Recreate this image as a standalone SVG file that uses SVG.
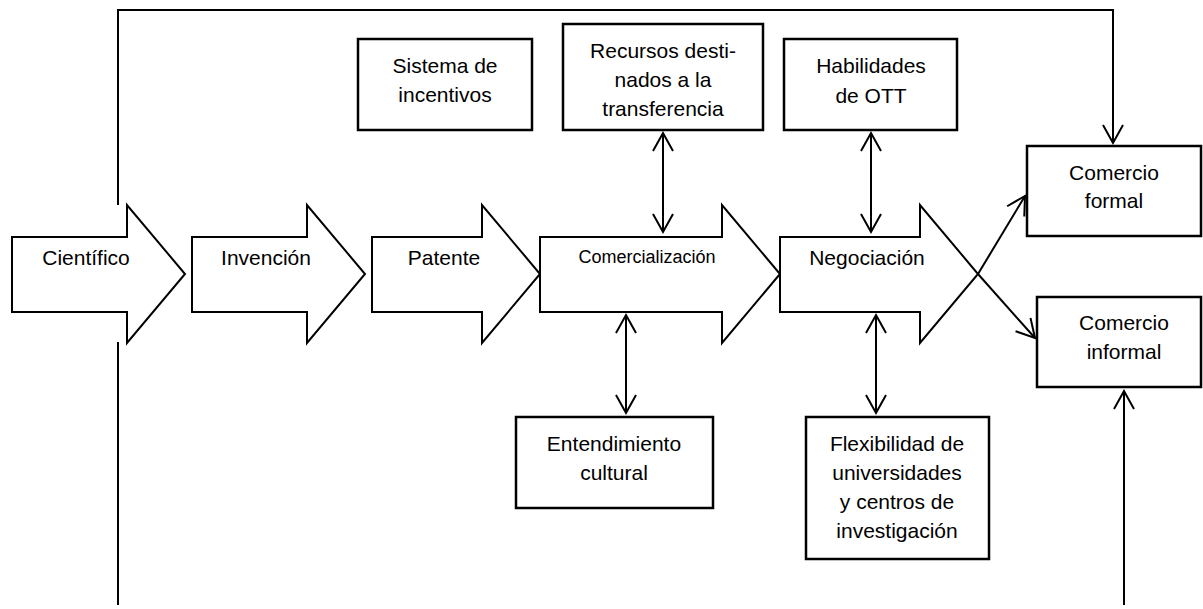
<svg xmlns="http://www.w3.org/2000/svg" width="1203" height="609" viewBox="0 0 1203 609">
<defs>
<style>
.box{fill:#fff;stroke:#000;stroke-width:2.5}
.arr{fill:#fff;stroke:#000;stroke-width:2;stroke-linejoin:miter}
.t{font-family:"Liberation Sans",Arial,sans-serif;font-size:21px;fill:#000;text-anchor:middle}
.ts{font-size:18px}
.c{fill:none;stroke:#000;stroke-width:2}
.m{fill:none;stroke:#000;stroke-width:2}
</style>
<marker id="v" markerUnits="userSpaceOnUse" markerWidth="24" markerHeight="24" refX="0" refY="0" viewBox="-20 -12 22 24" orient="auto-start-reverse" overflow="visible">
<path class="m" d="M-18,-10 L0,0 L-18,10"/>
</marker>
</defs>
<rect width="1203" height="609" fill="#fff"/>

<g id="connectors">
<polyline class="c" points="118,205 118,10 1113,10 1113,143" marker-end="url(#v)"/>
<line class="c" x1="118" y1="342" x2="118" y2="605"/>
<line class="c" x1="1124" y1="605" x2="1124" y2="391" marker-end="url(#v)"/>
<line class="c" x1="663" y1="133" x2="663" y2="232" marker-start="url(#v)" marker-end="url(#v)"/>
<line class="c" x1="871" y1="133" x2="871" y2="232" marker-start="url(#v)" marker-end="url(#v)"/>
<line class="c" x1="626" y1="315" x2="626" y2="413" marker-start="url(#v)" marker-end="url(#v)"/>
<line class="c" x1="876" y1="315" x2="876" y2="413" marker-start="url(#v)" marker-end="url(#v)"/>
</g>

<g id="n-cientifico">
<path class="arr" d="M12,237 H127 V205 L185,274 L127,343 V312 H12 Z"/>
<text class="t" x="86" y="265">Científico</text>
</g>
<g id="n-invencion">
<path class="arr" d="M192,237 H307 V205 L365,274 L307,343 V312 H192 Z"/>
<text class="t" x="266" y="265">Invención</text>
</g>
<g id="n-patente">
<path class="arr" d="M372,237 H482 V205 L540,274 L482,343 V312 H372 Z"/>
<text class="t" x="444" y="265">Patente</text>
</g>
<g id="n-comercializacion">
<path class="arr" d="M540,237 H722 V205 L780,274 L722,343 V312 H540 Z"/>
<text class="t ts" x="647" y="263">Comercialización</text>
</g>
<g id="n-negociacion">
<path class="arr" d="M780,237 H920 V205 L978,274 L920,343 V312 H780 Z"/>
<text class="t" x="867" y="265">Negociación</text>
</g>

<g id="cross-connectors">
<line class="c" x1="978" y1="274" x2="1025" y2="196" marker-end="url(#v)"/>
<line class="c" x1="978" y1="274" x2="1035" y2="338" marker-end="url(#v)"/>
</g>

<g id="n-sistema">
<rect class="box" x="358" y="39" width="174" height="91"/>
<text class="t" x="445" y="73">Sistema de</text>
<text class="t" x="445" y="102">incentivos</text>
</g>
<g id="n-recursos">
<rect class="box" x="563" y="24" width="200" height="106"/>
<text class="t" x="663" y="58">Recursos desti-</text>
<text class="t" x="663" y="87">nados a la</text>
<text class="t" x="663" y="116">transferencia</text>
</g>
<g id="n-habilidades">
<rect class="box" x="784" y="39" width="173" height="91"/>
<text class="t" x="871" y="73">Habilidades</text>
<text class="t" x="871" y="103">de OTT</text>
</g>
<g id="n-formal">
<rect class="box" x="1027" y="146" width="174" height="90"/>
<text class="t" x="1114" y="180">Comercio</text>
<text class="t" x="1114" y="208">formal</text>
</g>
<g id="n-informal">
<rect class="box" x="1037" y="297" width="164" height="90"/>
<text class="t" x="1124" y="330">Comercio</text>
<text class="t" x="1124" y="359">informal</text>
</g>
<g id="n-entendimiento">
<rect class="box" x="516" y="417" width="197" height="91"/>
<text class="t" x="614" y="451">Entendimiento</text>
<text class="t" x="614" y="480">cultural</text>
</g>
<g id="n-flexibilidad">
<rect class="box" x="806" y="417" width="183" height="142"/>
<text class="t" x="897" y="451">Flexibilidad de</text>
<text class="t" x="897" y="480">universidades</text>
<text class="t" x="897" y="509">y centros de</text>
<text class="t" x="897" y="538">investigación</text>
</g>
</svg>
